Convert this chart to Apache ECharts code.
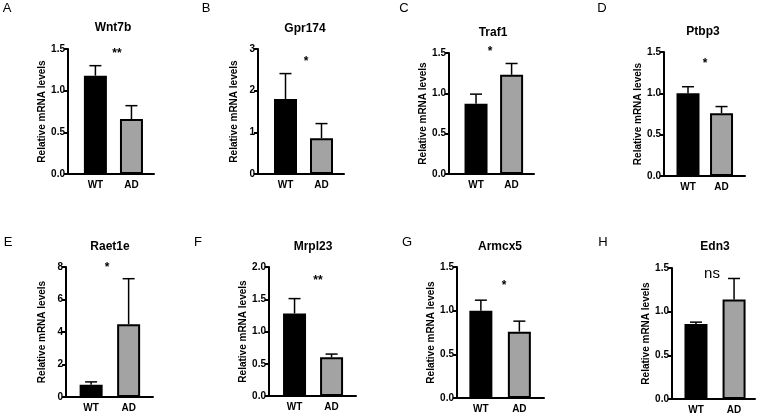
<!DOCTYPE html>
<html>
<head>
<meta charset="utf-8">
<script src="https://cdn.jsdelivr.net/npm/echarts@6/dist/echarts.min.js"></script>
<style>html,body{margin:0;padding:0;background:#fff}#c{width:762px;height:418px}</style>
</head>
<body>
<div id="c"></div>
<script>
// ---- data ----
const categories = ['WT', 'AD'];
const genes = ['Wnt7b', 'Gpr174', 'Traf1', 'Ptbp3', 'Raet1e', 'Mrpl23', 'Armcx5', 'Edn3'];
const panelLetters = ['A', 'B', 'C', 'D', 'E', 'F', 'G', 'H'];
const wtMeans = [1.18, 1.80, 0.87, 1.00, 0.76, 1.28, 1.00, 0.86];
const wtErrors = [0.12, 0.61, 0.12, 0.08, 0.17, 0.23, 0.12, 0.02];
const adMeans = [0.66, 0.86, 1.23, 0.76, 4.48, 0.60, 0.76, 1.14];
const adErrors = [0.16, 0.35, 0.14, 0.08, 2.80, 0.05, 0.12, 0.24];
const significance = ['**', '*', '*', '*', '*', '**', '*', 'ns'];
const yMaxes = [1.5, 3, 1.5, 1.5, 8, 2, 1.5, 1.5];
const yIntervals = [0.5, 1, 0.5, 0.5, 2, 0.5, 0.5, 0.5];
const yDecimals = [1, 0, 1, 1, 0, 1, 1, 1];

// ---- layout (pixels) ----
const gridLeft = [68, 258, 449, 664, 66, 269, 457, 672];
const gridRight = [154, 344, 534, 745, 153, 356, 544, 755];
const gridTop = [49, 49, 53, 52, 267, 267, 267, 268];
const gridBottom = [174, 174, 174, 176, 397, 396, 398, 399];
const xMin = [-0.76, -0.764, -0.76, -0.716, -0.67, -0.69, -0.62, -0.63];
const xMax = [1.625, 1.625, 1.63, 1.70, 1.65, 1.66, 1.64, 1.55];
const titlePos = [[113, 28], [305, 29], [493, 33], [703, 32], [110, 247], [313, 247], [500, 247], [715, 247]];
const letterPos = [[7, 8], [206, 8], [404, 8], [602, 8], [8, 242], [198, 242], [407, 242], [603, 242]];
const sigPos = [[117, 53], [306, 61], [490, 51], [705, 63], [107, 267], [318, 280], [504, 285], [712, 274]];

const FONT = '"Liberation Sans", Arial, Helvetica, sans-serif';
const grids = [], xAxes = [], yAxes = [], series = [], graphics = [];

for (let i = 0; i < genes.length; i++) {
  grids.push({
    left: gridLeft[i], top: gridTop[i],
    width: gridRight[i] - gridLeft[i], height: gridBottom[i] - gridTop[i],
    containLabel: false
  });
  xAxes.push({
    type: 'value', gridIndex: i, min: xMin[i], max: xMax[i],
    axisLine: { show: true, onZero: false, lineStyle: { color: '#000', width: 2 } },
    axisTick: { show: false },
    splitLine: { show: false },
    axisLabel: {
      customValues: [0, 1],
      formatter: v => categories[Math.round(v)],
      color: '#000', fontWeight: 'bold', fontSize: 10, fontFamily: FONT, margin: 6
    }
  });
  const dec = yDecimals[i];
  yAxes.push({
    type: 'value', gridIndex: i, min: 0, max: yMaxes[i], interval: yIntervals[i],
    name: 'Relative mRNA levels', nameLocation: 'middle', nameGap: 19,
    nameTextStyle: { color: '#000', fontWeight: 'bold', fontSize: 10, fontFamily: FONT },
    axisLine: { show: true, onZero: false, lineStyle: { color: '#000', width: 2 } },
    axisTick: { show: true, length: 4, lineStyle: { color: '#000', width: 2 } },
    splitLine: { show: false },
    axisLabel: {
      formatter: v => v.toFixed(dec),
      color: '#000', fontWeight: 'bold', fontSize: 10, fontFamily: FONT, margin: 3
    }
  });
  series.push({
    type: 'bar', xAxisIndex: i, yAxisIndex: i, barWidth: 23,
    itemStyle: { borderColor: '#000', borderWidth: 2 },
    data: [
      { value: [0, wtMeans[i]], itemStyle: { color: '#000000' } },
      { value: [1, adMeans[i]], itemStyle: { color: '#a3a3a3' } }
    ],
    z: 2
  });
  series.push({
    type: 'custom', xAxisIndex: i, yAxisIndex: i,
    encode: { x: 0, y: 1 },
    data: [[0, wtMeans[i], wtErrors[i]], [1, adMeans[i], adErrors[i]]],
    renderItem: function (params, api) {
      const x = api.value(0), v = api.value(1), e = api.value(2);
      const p0 = api.coord([x, v]);
      const p1 = api.coord([x, v + e]);
      const st = { stroke: '#000', lineWidth: 1.5 };
      return {
        type: 'group',
        children: [
          { type: 'line', shape: { x1: p0[0], y1: p0[1], x2: p1[0], y2: p1[1] }, style: st },
          { type: 'line', shape: { x1: p1[0] - 6, y1: p1[1], x2: p1[0] + 6, y2: p1[1] }, style: st }
        ]
      };
    },
    z: 1
  });
  graphics.push({
    type: 'text', x: titlePos[i][0], y: titlePos[i][1],
    style: { text: genes[i], font: 'bold 12px ' + FONT, fill: '#000', align: 'center', verticalAlign: 'middle' }
  });
  graphics.push({
    type: 'text', x: letterPos[i][0], y: letterPos[i][1],
    style: { text: panelLetters[i], font: '13px ' + FONT, fill: '#000', align: 'center', verticalAlign: 'middle' }
  });
  const isNs = significance[i] === 'ns';
  graphics.push({
    type: 'text', x: sigPos[i][0], y: isNs ? sigPos[i][1] : sigPos[i][1] - 5,
    style: {
      text: significance[i],
      font: (isNs ? '15px ' : 'bold 12px ') + FONT,
      fill: '#000', align: 'center', verticalAlign: isNs ? 'middle' : 'top'
    }
  });
}

const chart = echarts.init(document.getElementById('c'), null, { renderer: 'canvas' });
chart.setOption({
  backgroundColor: '#fff',
  animation: false,
  grid: grids, xAxis: xAxes, yAxis: yAxes, series: series, graphic: graphics
});
</script>
</body>
</html>
